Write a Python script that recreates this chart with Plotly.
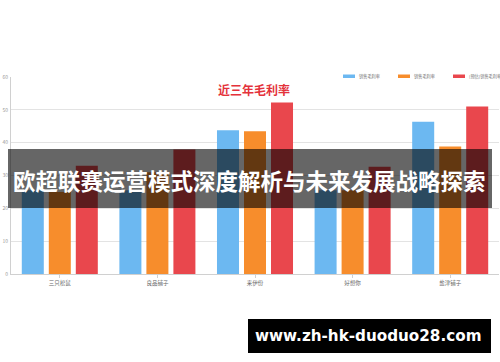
import plotly.graph_objects as go

categories = ["三只松鼠", "良品铺子", "来伊份", "好想你", "盐津铺子"]
series_names = ["销售毛利率", "销售毛利率", "(预估)销售毛利率"]
blue_vals = [25.5, 25.5, 43.8, 25.5, 46.4]
orange_vals = [25.0, 31.0, 43.5, 25.5, 38.8]
red_vals = [33.0, 37.9, 52.2, 32.7, 51.0]
series_colors = ["#6cb8f1", "#f78d2c", "#e9474d"]
y_ticks = [0, 10, 20, 30, 40, 50, 60]

title_text = "近三年毛利率"
banner_text = "欧超联赛运营模式深度解析与未来发展战略探索"
watermark_text = "www.zh-hk-duoduo28.com"

W, H = 500, 362
L, R, T, B = 11, 1, 77, 88
PW = W - L - R
PH = H - T - B


def px(x):
    return (x - L) / PW


def py(y):
    return (H - B - y) / PH


fig = go.Figure()
for name, vals, col in zip(series_names, [blue_vals, orange_vals, red_vals], series_colors):
    fig.add_trace(go.Bar(x=categories, y=vals, name=name, marker_color=col,
                         marker_line_width=0, showlegend=False))

shapes = []
annotations = []

# custom legend
leg_x = [343, 398, 453]
for i, (name, col) in enumerate(zip(series_names, series_colors)):
    shapes.append(dict(type="rect", xref="paper", yref="paper",
                       x0=px(leg_x[i]), x1=px(leg_x[i] + 12),
                       y0=py(78), y1=py(74.5), fillcolor=col, line_width=0))
    annotations.append(dict(text=name, xref="paper", yref="paper",
                            x=px(leg_x[i] + 14), y=py(76.3), xanchor="left", yanchor="middle",
                            showarrow=False, font=dict(size=4.2, color="#777")))

# title
annotations.append(dict(text="<b>" + title_text + "</b>", xref="paper", yref="paper",
                        x=px(254), y=py(89), xanchor="center", yanchor="middle",
                        showarrow=False, font=dict(size=12, color="#e4323b",
                                                   family="Noto Sans CJK SC")))

# banner overlay
shapes.append(dict(type="rect", xref="paper", yref="paper", layer="above",
                   x0=px(8), x1=px(492), y0=py(208), y1=py(149),
                   fillcolor="rgba(0,0,0,0.6)", line_width=0))
annotations.append(dict(text="<b>" + banner_text + "</b>", xref="paper", yref="paper",
                        x=px(249), y=py(180), xanchor="center", yanchor="middle",
                        showarrow=False, font=dict(size=22.5, color="white",
                                                   family="Noto Sans CJK SC")))

# watermark
shapes.append(dict(type="rect", xref="paper", yref="paper", layer="above",
                   x0=px(248), x1=px(491), y0=py(353), y1=py(319),
                   fillcolor="black", line_width=0))
annotations.append(dict(text="<b>" + watermark_text + "</b>", xref="paper", yref="paper",
                        x=px(368), y=py(336), xanchor="center", yanchor="middle",
                        showarrow=False, font=dict(size=15.2, color="white",
                                                   family="DejaVu Sans")))

fig.update_layout(
    width=W, height=H,
    margin=dict(l=L, r=R, t=T, b=B),
    paper_bgcolor="white", plot_bgcolor="white",
    barmode="group", bargap=0.17, bargroupgap=0.185,
    shapes=shapes, annotations=annotations,
    font=dict(family="Noto Sans CJK SC"),
)
fig.update_yaxes(range=[0, 60], tickvals=y_ticks, showgrid=True, gridcolor="#e3e3e3",
                 gridwidth=1, showline=True, linecolor="#d0d0d0", zeroline=False,
                 tickfont=dict(size=5, color="#999"), ticklabelstandoff=1)
fig.update_xaxes(showline=True, linecolor="#d0d0d0", ticks="outside", ticklen=3,
                 tickcolor="#d0d0d0", tickfont=dict(size=5.5, color="#666"),
                 ticklabelstandoff=0)

fig.write_html("out.html")
